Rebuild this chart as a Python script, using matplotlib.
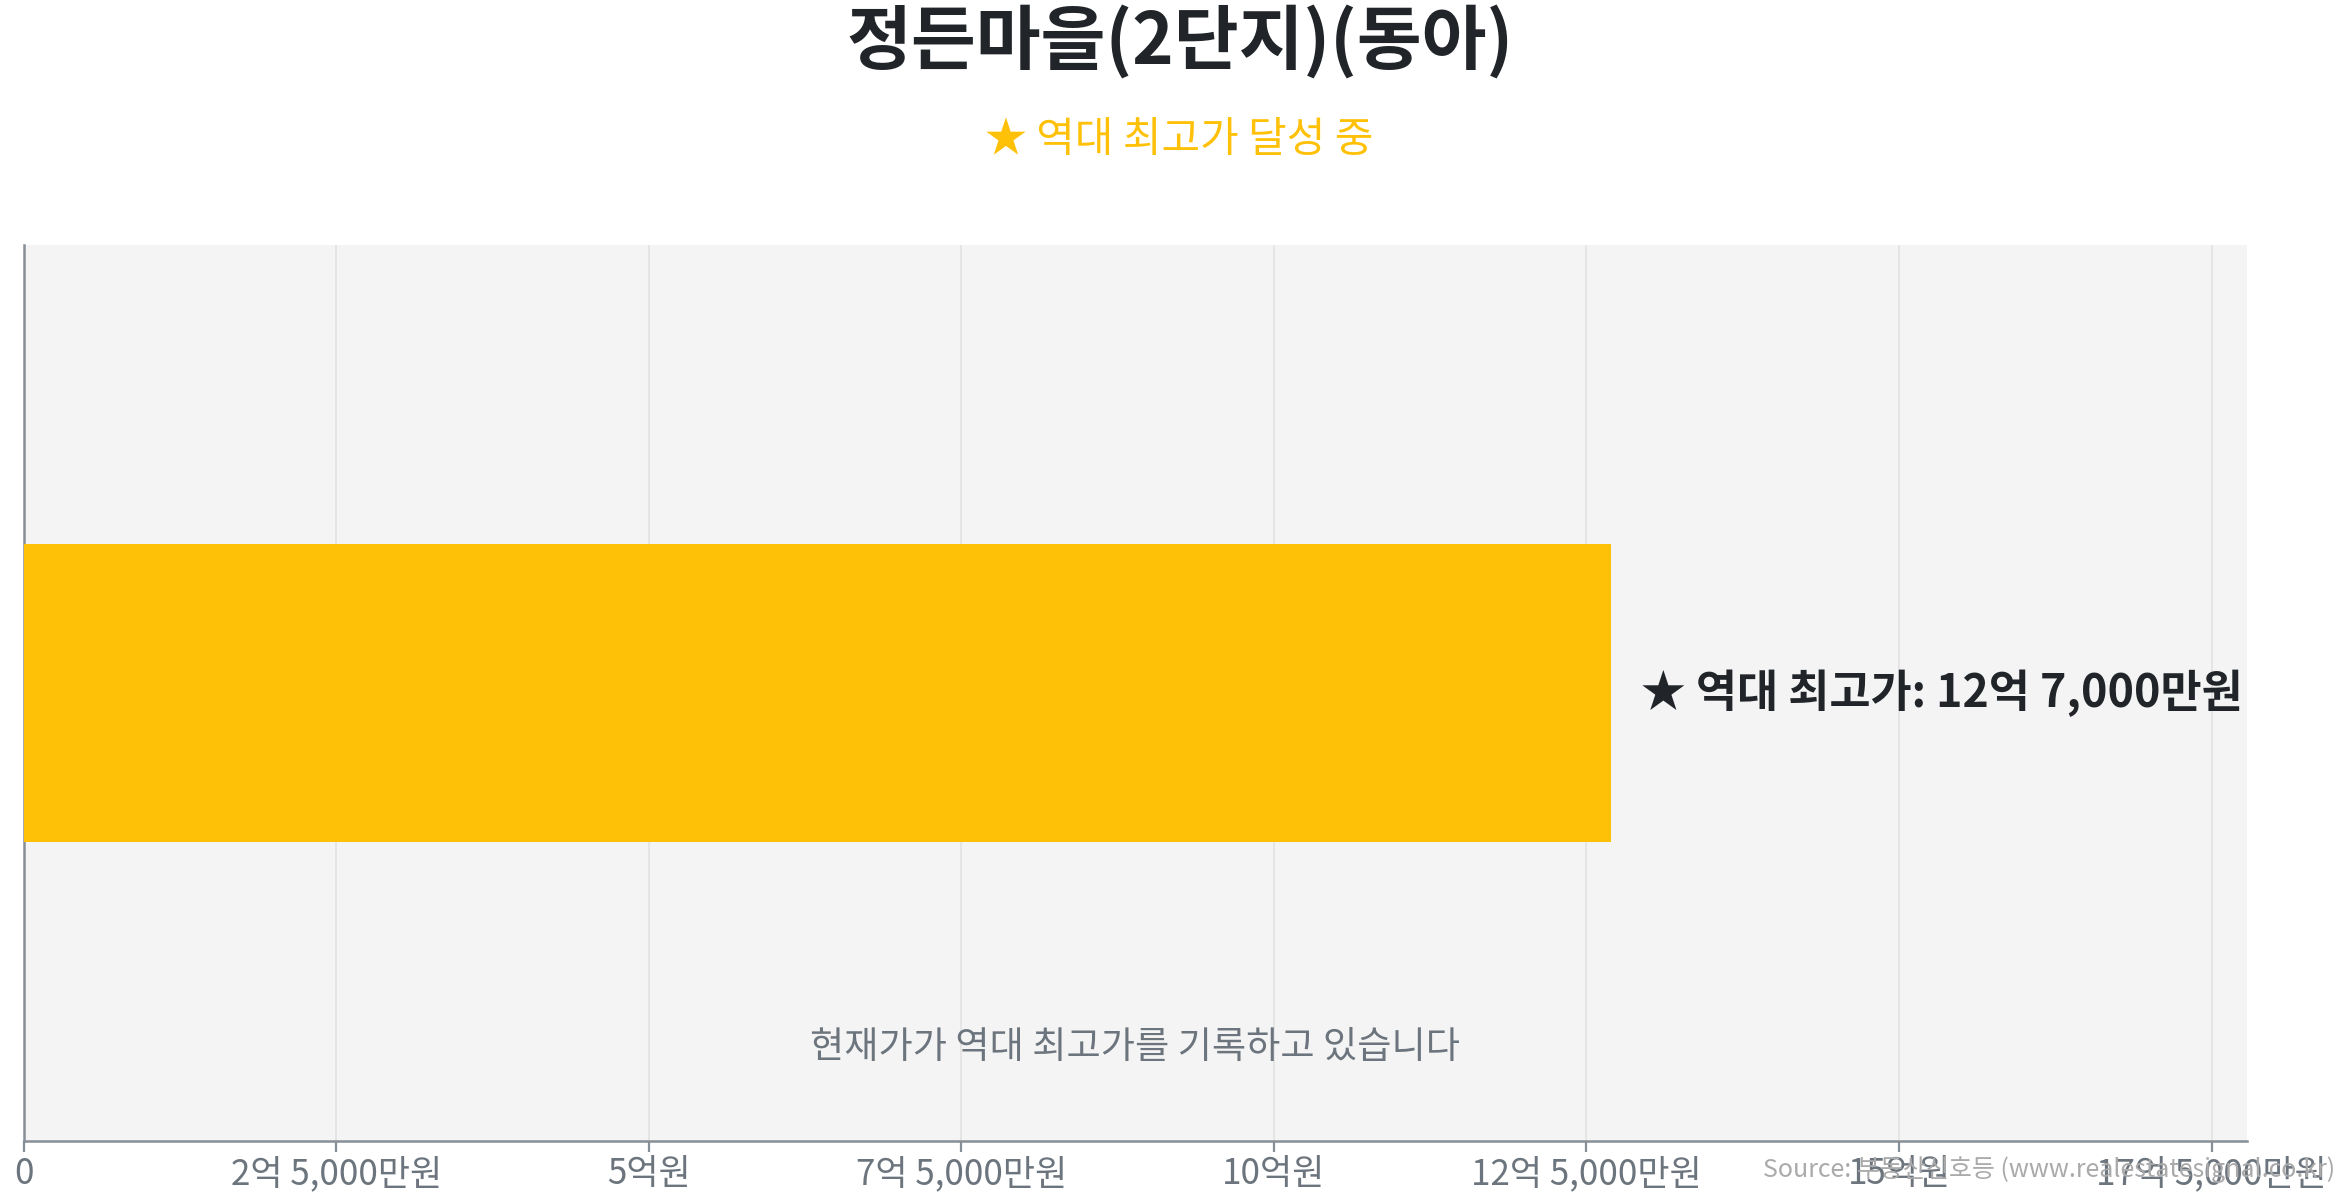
import matplotlib
matplotlib.use("Agg")
import matplotlib.pyplot as plt
from matplotlib.ticker import FixedLocator

plt.rcParams['font.family'] = ['Noto Sans CJK KR', 'DejaVu Sans']

title = "정든마을(2단지)(동아)"
subtitle = "★ 역대 최고가 달성 중"
categories = ["역대 최고가"]
values_eok = [12.7]
bar_label = "★ 역대 최고가: 12억 7,000만원"
note = "현재가가 역대 최고가를 기록하고 있습니다"
tick_values = [0, 2.5, 5, 7.5, 10, 12.5, 15, 17.5]
tick_labels = ["0", "2억 5,000만원", "5억원", "7억 5,000만원", "10억원",
               "12억 5,000만원", "15억원", "17억 5,000만원"]
source = "Source: 부동산신호등 (www.realestatesignal.co.kr)"

fig = plt.figure(figsize=(11.725, 6.005), dpi=200)
ax = fig.add_axes([0.0102, 0.05, 0.9478, 0.746])
ax.set_facecolor("#f4f4f4")

ax.barh([0], values_eok, height=1.0, color="#FFC107", zorder=3)
ax.set_ylim(-1.5, 1.5)
ax.set_xlim(0, max(values_eok) * 1.4)
ax.set_yticks([])

ax.xaxis.set_major_locator(FixedLocator(tick_values))
ax.set_xticklabels(tick_labels, fontsize=12.6, color="#6c757d")
ax.tick_params(axis='x', length=4, width=0.8, color="#868e96", pad=1.5)
ax.grid(axis='x', color="#e2e2e2", linewidth=0.6, zorder=0)

for s in ["top", "right"]:
    ax.spines[s].set_visible(False)
for s in ["left", "bottom"]:
    ax.spines[s].set_color("#868e96")
    ax.spines[s].set_linewidth(0.9)

ax.annotate(bar_label, xy=(values_eok[0], 0), xytext=(10.5, 0), textcoords="offset points",
            ha="left", va="center", fontsize=16.1, fontweight="bold", color="#212529", zorder=4)

ax.text(0.5, 0.104, note, transform=ax.transAxes, ha="center", va="center",
        fontsize=13.4, color="#6c757d")

fig.text(0.503, 0.965, title, ha="center", va="center", fontsize=25.4,
         fontweight="bold", color="#212529")
fig.text(0.503, 0.883, subtitle, ha="center", va="center", fontsize=15.1,
         color="#FFC107")
fig.text(0.996, 0.026, source, ha="right", va="center", fontsize=9.0, color="#aaaaaa")

fig.savefig("out.png", dpi=200, facecolor="white")
